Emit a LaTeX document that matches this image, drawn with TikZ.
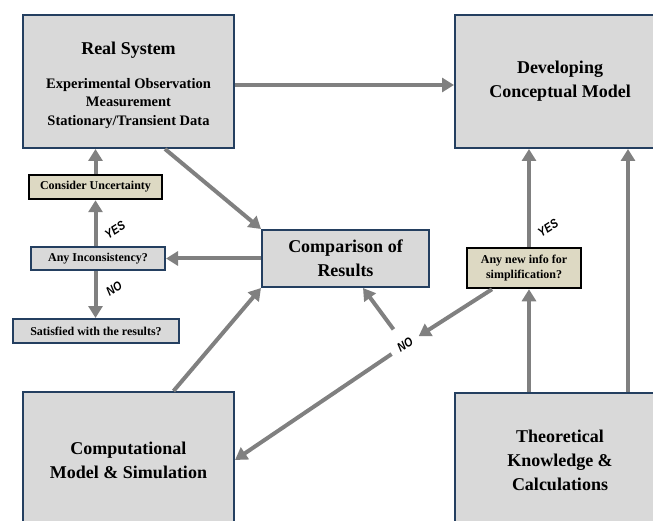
\documentclass[tikz,border=0pt]{standalone}
\usepackage{fontspec}
\setmainfont{Liberation Serif}
\newfontfamily\lblfont{Liberation Sans}
\usetikzlibrary{arrows.meta,positioning}
\definecolor{boxgray}{HTML}{D9D9D9}
\definecolor{boxedge}{HTML}{243F60}
\definecolor{askfill}{HTML}{DDD9C3}
\definecolor{arrgray}{HTML}{808080}
\tikzset{bigbox/.style={draw=boxedge,line width=2pt,fill=boxgray,align=center,inner sep=0pt,font=\bfseries\fontsize{18}{24}\selectfont},
  smallbox/.style={draw=boxedge,line width=2pt,fill=boxgray,align=center,inner sep=0pt,font=\bfseries\fontsize{12}{15}\selectfont},
  askbox/.style={smallbox,draw=black,line width=2.5pt,fill=askfill},
  arr/.style={-{Triangle[length=12pt,width=14pt]},line width=4pt,draw=arrgray},
  ans/.style={font=\lblfont\bfseries\itshape\fontsize{10.5}{12}\selectfont,rotate=32,inner sep=0pt,yscale=1.2}}

\begin{document}
\begin{tikzpicture}[x=1pt,y=-1pt]
\useasboundingbox (0,0) rectangle (653,521);
\clip (0,0) rectangle (653,521);
\node[bigbox,minimum width=211pt,minimum height=133pt,font=\bfseries\fontsize{14.5}{18.5}\selectfont] (real) at (128.5,81.5)
  {\rule{0pt}{20pt}{\fontsize{18}{22}\selectfont Real System}\\[15pt]Experimental Observation\\Measurement\\Stationary/Transient Data};
\node[bigbox,minimum width=210pt,minimum height=133pt] (dev) at (560,81.5) {Developing\\Conceptual Model};
\node[bigbox,minimum width=167pt,minimum height=57pt] (comp) at (345.5,258.5) {Comparison of\\Results};
\node[bigbox,minimum width=211pt,minimum height=136pt] (cm) at (128.5,460) {Computational\\Model \& Simulation};
\node[bigbox,minimum width=210pt,minimum height=134pt] (th) at (560,460) {Theoretical\\Knowledge \&\\Calculations};
\node[askbox,minimum width=133pt,minimum height=24pt] (cu) at (95.5,187) {Consider Uncertainty};
\node[smallbox,minimum width=134pt,minimum height=23pt] (ai) at (98,258.5) {Any Inconsistency?};
\node[smallbox,minimum width=166pt,minimum height=24pt] (sat) at (96,331) {Satisfied with the results?};
\node[askbox,minimum width=114pt,minimum height=40pt] (ni) at (524,268) {Any new info for\\simplification?};
\node[ans] (yesl) at (115,230) {YES};
\node[ans] (nol) at (114,289) {NO};
\node[ans] (yesr) at (548,228) {YES};
\node[ans,circle,minimum size=32pt] (nolbl) at (405,345) {NO};
\draw[arr] ([yshift=-3.5pt]real.east) -- ([yshift=-3.5pt]dev.west);
\draw[arr] (cu.north) -- (cu.north |- real.south);
\draw[arr] (cu.south |- ai.north) -- (cu.south);
\draw[arr] (cu.south |- ai.south) -- (cu.south |- sat.north);
\draw[arr] (comp.west) -- (ai.east);
\draw[arr] ([xshift=-70pt]real.south east) -- (comp.north west);
\draw[arr] ([xshift=45pt]cm.north) -- (comp.south west);
\draw[arr] ([xshift=-32pt]ni.south) -- (nolbl);
\draw[arr] (nolbl) -- ([xshift=17.5pt]comp.south);
\draw[arr] (nolbl) -- (cm.east);
\draw[arr] ([xshift=-31pt]th.north) -- ([xshift=5pt]ni.south);
\draw[arr] ([xshift=5pt]ni.north) -- ([xshift=-31pt]dev.south);
\draw[arr] ([xshift=68pt]th.north) -- ([xshift=68pt]dev.south);
\end{tikzpicture}
\end{document}
